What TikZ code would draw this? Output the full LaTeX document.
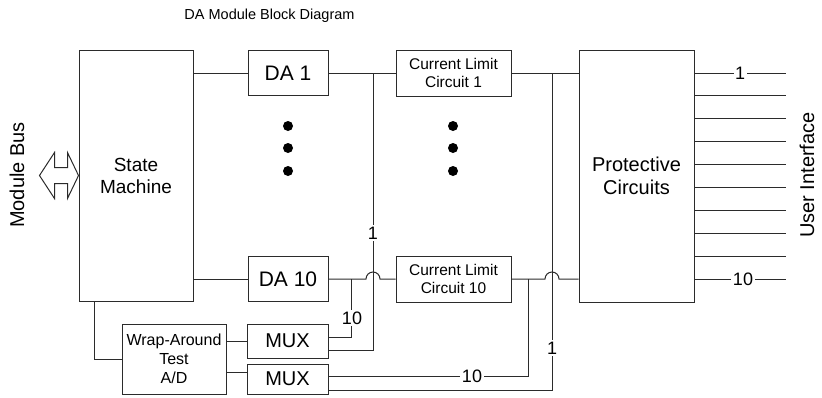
\documentclass[tikz,border=0pt]{standalone}
\usepackage{fontspec}
\setmainfont{Liberation Sans}
\usepackage{tikz}
\usetikzlibrary{calc}
\definecolor{ink}{HTML}{2B2B2B}

\begin{document}
\begin{tikzpicture}[
  x=1pt,y=-1pt,
  font=\fontsize{20}{23}\selectfont,
  blk/.style={draw=ink,line width=1pt,align=center,inner sep=1pt},
  small/.style={font=\fontsize{15.5}{18.5}\selectfont},
  wire/.style={draw=ink,line width=1pt},
  lbl/.style={fill=white,inner sep=1.5pt,font=\fontsize{18}{20}\selectfont},
  rot/.style={rotate=90,font=\fontsize{20}{23}\selectfont}
]
\useasboundingbox (0,0) rectangle (822,397);
\node[font=\fontsize{14.5}{17}\selectfont] (title) at (269.5,16) {DA Module Block Diagram};
\node[rot] (bus) at (17,175) {Module Bus};
\node[rot] (ui)  at (807,175) {User Interface};
\node[blk,font=\fontsize{19}{22}\selectfont,minimum width=114,minimum height=251] (sm) at (136,175.5) {State\\Machine};
\node[blk,font=\fontsize{21}{24}\selectfont,minimum width=80,minimum height=45] (da1)  at (288,73)  {DA 1};
\node[blk,font=\fontsize{21}{24}\selectfont,minimum width=80,minimum height=45] (da10) at (288,279) {DA 10};
\node[blk,small,minimum width=115,minimum height=46] (cl1)  at (453.5,73)  {Current Limit\\Circuit 1};
\node[blk,small,minimum width=115,minimum height=46] (cl10) at (453.5,279) {Current Limit\\Circuit 10};
\node[blk,minimum width=115,minimum height=252] (pc)   at (636.5,176) {Protective\\Circuits};
\node[blk,font=\fontsize{16}{19}\selectfont,minimum width=104,minimum height=70] (wrap) at (174,359) {Wrap-Around\\Test\\A/D};
\node[blk,minimum width=81,minimum height=34] (mux1) at (287.5,341) {MUX};
\node[blk,minimum width=81,minimum height=30] (mux2) at (287.5,379) {MUX};
% dots between channels
\foreach \yy in {126,148,171} {
  \fill[black] (288,\yy) circle[radius=5pt];
  \fill[black] (453,\yy) circle[radius=5pt];
}
% module bus
\draw[wire] (sm.west) -- ++(-11,-23) -- ++(0,15) -- ++(-13,0) -- ++(0,-15) -- ++(-15,23)
  -- ++(15,23) -- ++(0,-15) -- ++(13,0) -- ++(0,15) -- cycle;
% taps
\coordinate (t1)  at (373,73);
\coordinate (t10) at (351,279);
\coordinate (c1)  at (552,73);
\coordinate (c10) at (528,279);
\coordinate (m2in) at ([yshift=7pt]mux2.west);
% forward path
\draw[wire] (sm.east |- da1) -- (da1.west);
\draw[wire] (sm.east |- da10) -- (da10.west);
\draw[wire] (da1.east) -- (cl1.west);
\draw[wire] (cl1.east) -- (pc.west |- cl1);
\draw[wire] (da10.east) -- ([xshift=-7pt]t1 |- da10) arc[start angle=180,end angle=0,radius=7pt] -- (cl10.west);
\draw[wire] (cl10.east) -- ([xshift=-7pt]c1 |- cl10) arc[start angle=180,end angle=0,radius=7pt] -- (pc.west |- cl10);
% wrap-around test
\draw[wire] ([xshift=-42pt]sm.south) |- (wrap.west);
\draw[wire] (wrap.east |- mux1) -- (mux1.west);
\draw[wire] (wrap.east |- m2in) -- (m2in);
\draw[wire] (t1) |- ([yshift=-9pt]mux1.east);
\draw[wire] (t10) |- ([yshift=4pt]mux1.east);
\draw[wire] (c1) |- ([yshift=-11pt]mux2.east);
\draw[wire] (c10) |- ([yshift=3pt]mux2.east);
\node[lbl] (l1a)  at (373,233) {1};
\node[lbl] (l10a) at (352,318) {10};
\node[lbl] (l1b)  at (552,348) {1};
\node[lbl] (l10b) at (472,376) {10};
% user interface lines
\foreach \i in {0,...,9} {
  \pgfmathsetmacro\yy{73+22.9*\i}
  \coordinate (u\i) at (786,\yy);
  \draw[wire] (pc.east |- u\i) -- (u\i);
}
\node[lbl] (o1)  at (740,73)  {1};
\node[lbl] (o10) at (743,279) {10};
\end{tikzpicture}
\end{document}
